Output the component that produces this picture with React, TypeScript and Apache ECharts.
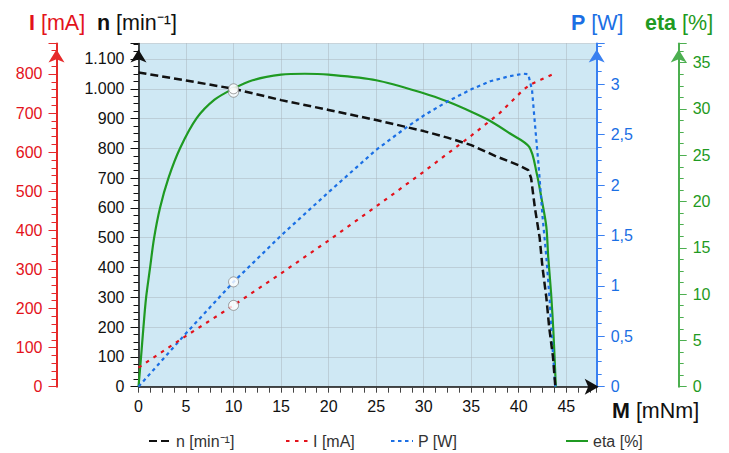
import React, { useEffect, useRef } from "react";
import * as echarts from "echarts";

const FONT = "'Liberation Sans', Arial, Helvetica, sans-serif";

// Speed n [min⁻¹] vs torque M [mNm]
const nTorque = [0, 5, 10, 15, 20, 25, 28, 30, 32.5, 35, 37.5, 40, 41, 41.3, 41.7, 42.2, 42.5, 42.9, 43.2, 43.6, 43.85];
const nSpeed = [1055, 1028, 1000, 962, 929, 895, 873, 858, 836, 811, 775, 743, 727, 700, 600, 500, 400, 300, 200, 100, 0];

// Current I [mA]
const iTorque = [0, 5, 10, 15, 20, 25, 30, 35, 38, 40.5, 41.3, 42.3, 43.7];
const iCurrent = [49, 130, 208, 290, 374, 461, 550, 642, 700, 760, 774, 785, 801];

// Power P [W]
const pTorque = [0, 5, 10, 15, 20, 25, 28, 30, 32.5, 35, 37, 39, 40.5, 41, 41.4, 41.7, 42.1, 42.5, 42.9, 43.25, 43.5, 43.85];
const pPower = [0, 0.53, 1.04, 1.5, 1.93, 2.35, 2.56, 2.69, 2.83, 2.95, 3.03, 3.08, 3.105, 3.1, 2.94, 2.61, 2.18, 1.69, 1.29, 0.86, 0.46, 0];

// Efficiency eta [%]
const eTorque = [0, 0.26, 0.51, 0.79, 1.21, 1.63, 2.26, 3.14, 4.37, 6.12, 8, 10, 12, 15, 17.5, 20, 25, 30, 32.5, 35, 37, 39, 41.1, 41.9, 42.4, 42.9, 43.1, 43.4, 43.65, 43.9];
const eEff = [0, 3.1, 6.3, 9.55, 12.8, 16.0, 19.3, 22.5, 25.75, 29.0, 31.0, 32.2, 33.1, 33.7, 33.8, 33.7, 33.1, 31.7, 30.8, 29.7, 28.7, 27.4, 25.9, 23.0, 20.3, 17.3, 14.0, 10.1, 5.8, 0];

// Operating point markers at M = 10 mNm
const markTorque = 10;
const markSpeed = 1000;
const markCurrent = 208;
const markPower = 1.04;
const markEff = 31.8;

const legendNames = ["n [min⁻¹]", "I [mA]", "P [W]", "eta [%]"];

const RED = "#e3121b";
const BLUE = "#1b6fe4";
const GREEN = "#1f9a22";
const BLACK = "#111111";

const pair = (xs: number[], ys: number[]) => xs.map((x, i) => [x, ys[i]]);

const dotFmt = (v: number) => String(v).replace(/\B(?=(\d{3})+(?!\d))/g, ".");
const commaFmt = (v: number) => String(v).replace(".", ",");

function yAxisDef(opts: any) {
  const { position, offset, max, interval, color, lineColor, lineWidth, split, formatter, minor } = opts;
  return {
    type: "value",
    position,
    offset,
    min: 0,
    max,
    interval,
    axisLine: {
      show: true,
      onZero: false,
      lineStyle: { color: lineColor, width: lineWidth },
      symbol: ["none", "arrow"],
      symbolSize: [12, 13],
      symbolOffset: [0, -6],
    },
    axisTick: { show: true, inside: false, length: 8, lineStyle: { color: lineColor, width: 1 } },
    minorTick: { show: true, splitNumber: minor, length: 5, lineStyle: { color: lineColor, width: 1 } },
    axisLabel: {
      showMaxLabel: false,
      fontSize: 16,
      color,
      fontFamily: FONT,
      margin: 14,
      formatter,
    },
    splitLine: split
      ? { show: true, lineStyle: { color: "#a9b4bd", type: "dotted", width: 1 } }
      : { show: false },
    minorSplitLine: { show: false },
  };
}

export default function App() {
  const ref = useRef<HTMLDivElement>(null);

  useEffect(() => {
    if (!ref.current) return;
    const chart = echarts.init(ref.current, undefined, { renderer: "svg" });

    const legendCommon = {
      top: 433,
      padding: 0,
      itemWidth: 22,
      itemHeight: 14,
      itemStyle: { opacity: 0 },
      textStyle: { fontSize: 16, color: "#333", fontFamily: FONT },
      itemGap: 4,
    };

    const titleStyle = (text: string, fill: string, x: number, y: number) => ({
      type: "text",
      x,
      y,
      style: {
        text,
        fill,
        fontSize: 21.5,
        fontFamily: FONT,
        verticalAlign: "middle",
        rich: { b: { fontWeight: "bold", fontSize: 21.5, fill, fontFamily: FONT } },
      },
    });

    chart.setOption({
      animation: false,
      grid: {
        left: 138.5,
        right: 132.3,
        top: 43.5,
        bottom: 66.3,
        show: true,
        backgroundColor: "#cfe8f4",
        borderWidth: 0,
      },
      xAxis: {
        type: "value",
        min: 0,
        max: 48.2,
        interval: 5,
        axisLine: {
          show: true,
          onZero: false,
          lineStyle: { color: BLACK, width: 1.5 },
          symbol: ["none", "arrow"],
          symbolSize: [12, 14],
          symbolOffset: [0, 2],
        },
        axisTick: { show: true, inside: false, length: 6, lineStyle: { color: "#444" } },
        minorTick: { show: true, splitNumber: 4, length: 6, lineStyle: { color: "#444" } },
        axisLabel: { showMaxLabel: false, fontSize: 16, color: BLACK, fontFamily: FONT, margin: 12 },
        splitLine: { show: true, lineStyle: { color: "#a9b4bd", type: "dotted", width: 1 } },
      },
      yAxis: [
        yAxisDef({ position: "left", offset: 0, max: 1152, interval: 100, color: BLACK, lineColor: BLACK, lineWidth: 1.5, split: true, formatter: dotFmt, minor: 4 }),
        yAxisDef({ position: "left", offset: 82, max: 878, interval: 100, color: RED, lineColor: "#e62a2a", lineWidth: 2, split: false, formatter: (v: number) => String(v), minor: 5 }),
        yAxisDef({ position: "right", offset: 0, max: 3.405, interval: 0.5, color: BLUE, lineColor: "#3a80f0", lineWidth: 2, split: false, formatter: commaFmt, minor: 4 }),
        yAxisDef({ position: "right", offset: 82, max: 37.07, interval: 5, color: GREEN, lineColor: "#4caf50", lineWidth: 2, split: false, formatter: (v: number) => String(v), minor: 4 }),
      ],
      legend: [
        { ...legendCommon, left: 148, data: [legendNames[0]] },
        { ...legendCommon, left: 285, data: [legendNames[1]] },
        { ...legendCommon, left: 390, data: [legendNames[2]] },
        { ...legendCommon, left: 565, data: [legendNames[3]] },
      ],
      graphic: [
        titleStyle("{b|I} [mA]", RED, 29, 23),
        titleStyle("{b|n} [min⁻¹]", BLACK, 97, 23),
        titleStyle("{b|P} [W]", BLUE, 571, 23),
        titleStyle("{b|eta} [%]", GREEN, 645, 23),
        titleStyle("{b|M} [mNm]", BLACK, 612, 411),
      ],
      series: [
        {
          name: legendNames[3],
          type: "line",
          yAxisIndex: 3,
          data: pair(eTorque, eEff),
          showSymbol: false,
          symbol: "none",
          smooth: 0.3,
          lineStyle: { color: GREEN, width: 2.2, type: "solid" },
          itemStyle: { color: GREEN },
          z: 3,
        },
        {
          name: legendNames[2],
          type: "line",
          yAxisIndex: 2,
          data: pair(pTorque, pPower),
          showSymbol: false,
          symbol: "none",
          lineStyle: { color: BLUE, width: 2.2, type: [3.5, 3.5] },
          itemStyle: { color: BLUE },
          z: 4,
        },
        {
          name: legendNames[1],
          type: "line",
          yAxisIndex: 1,
          data: pair(iTorque, iCurrent),
          showSymbol: false,
          symbol: "none",
          lineStyle: { color: RED, width: 2.2, type: [3.5, 5.5] },
          itemStyle: { color: RED },
          z: 4,
        },
        {
          name: legendNames[0],
          type: "line",
          yAxisIndex: 0,
          data: pair(nTorque, nSpeed),
          showSymbol: false,
          symbol: "none",
          lineStyle: { color: BLACK, width: 2.5, type: [8, 4] },
          itemStyle: { color: BLACK },
          z: 5,
        },
        {
          type: "scatter",
          yAxisIndex: 3,
          data: [[markTorque, markEff]],
          symbolSize: 10,
          itemStyle: { color: "#fff", borderColor: "#888", borderWidth: 1 },
          z: 6,
        },
        {
          type: "scatter",
          yAxisIndex: 0,
          data: [[markTorque, markSpeed]],
          symbolSize: 10,
          itemStyle: { color: "#fff", borderColor: "#888", borderWidth: 1 },
          z: 7,
        },
        {
          type: "scatter",
          yAxisIndex: 1,
          data: [[markTorque, markCurrent]],
          symbolSize: 10,
          itemStyle: { color: "#fff", borderColor: "#888", borderWidth: 1 },
          z: 7,
        },
        {
          type: "scatter",
          yAxisIndex: 2,
          data: [[markTorque, markPower]],
          symbolSize: 10,
          itemStyle: { color: "#fff", borderColor: "#888", borderWidth: 1 },
          z: 7,
        },
      ],
    });

    return () => chart.dispose();
  }, []);

  return (
    <div
      ref={ref}
      style={{ position: "fixed", left: 0, top: 0, width: 729, height: 453, background: "#fff" }}
    />
  );
}
